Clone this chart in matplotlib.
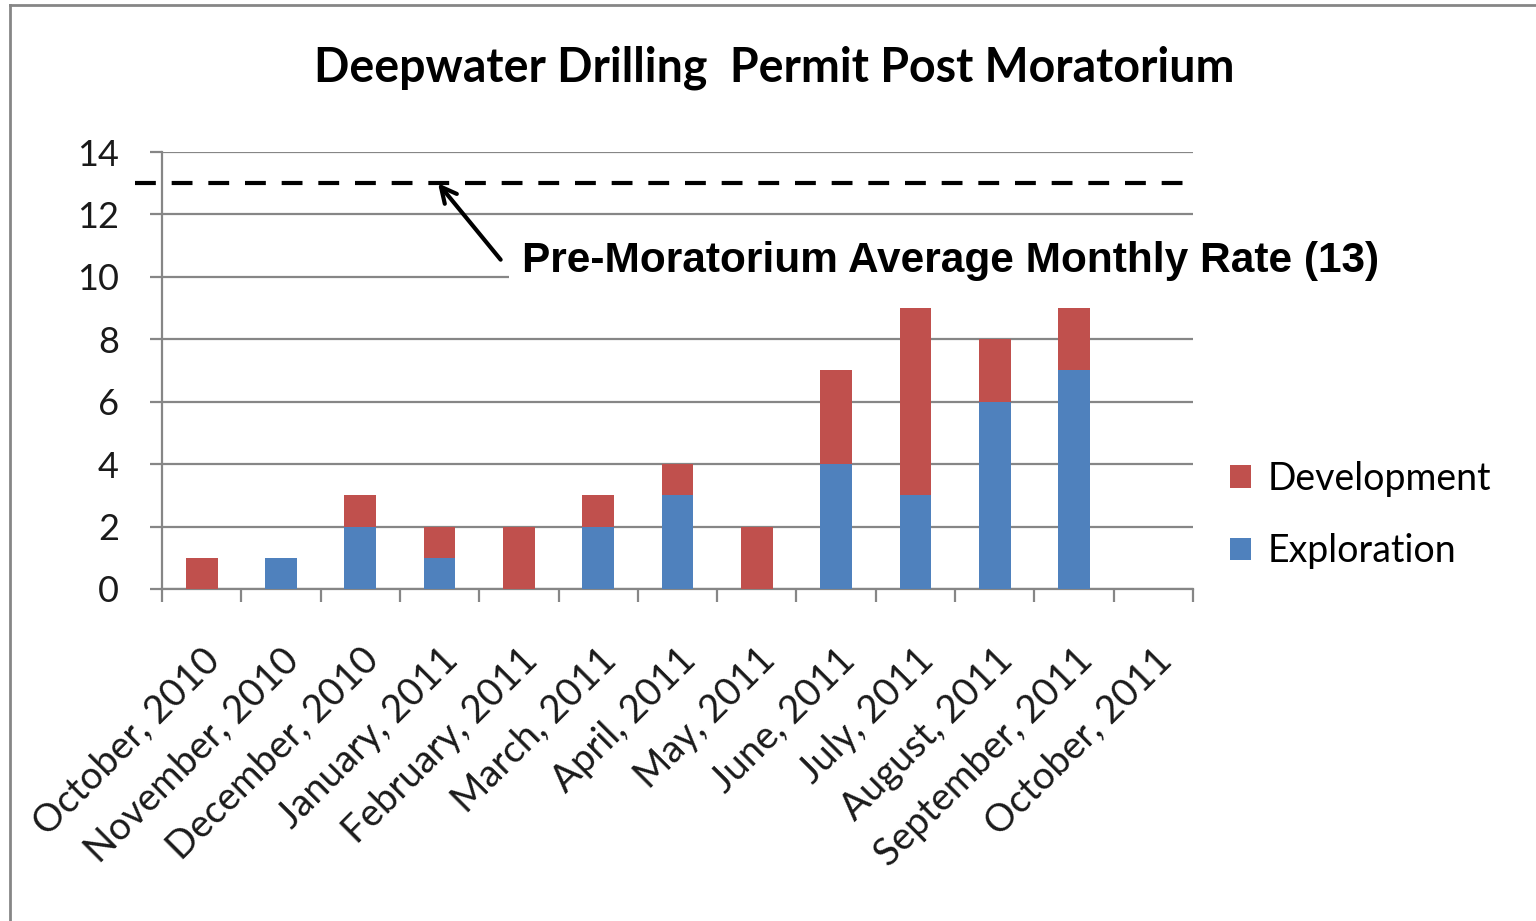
import matplotlib.pyplot as plt
from matplotlib.lines import Line2D
import numpy as np

# data
months = ['October, 2010', 'November, 2010', 'December, 2010', 'January, 2011',
          'February, 2011', 'March, 2011', 'April, 2011', 'May, 2011',
          'June, 2011', 'July, 2011', 'August, 2011', 'September, 2011',
          'October, 2011']
exploration = [0, 1, 2, 1, 0, 2, 3, 0, 4, 3, 6, 7, 0]
development = [1, 0, 1, 1, 2, 1, 1, 2, 3, 6, 2, 2, 0]
pre_moratorium_rate = 13

blue = '#4F81BD'
red = '#C0504D'
grid_col = '#868686'

plt.rcParams['font.family'] = ['Lato', 'DejaVu Sans']

fig = plt.figure(figsize=(15.36, 9.21), dpi=100)
ax = fig.add_axes([162 / 1536, 1 - 589 / 921, (1193 - 162) / 1536, (589 - 152) / 921])

x = np.arange(len(months))
b1 = ax.bar(x, exploration, width=0.4, color=blue, zorder=3)
b2 = ax.bar(x, development, width=0.4, bottom=exploration, color=red, zorder=3)

ax.set_xlim(-0.5, len(months) - 0.5)
ax.set_ylim(0, 14)
ax.set_yticks(range(0, 15, 2))
ax.yaxis.grid(True, color=grid_col, lw=1.6, zorder=0)
ax.set_axisbelow(True)

for s in ['top', 'right']:
    ax.spines[s].set_visible(False)
for s in ['left', 'bottom']:
    ax.spines[s].set_color(grid_col)
    ax.spines[s].set_linewidth(1.6)

ax.set_xticks(x)
ax.set_xticklabels(months, rotation=45, ha='right', rotation_mode='anchor')
ax.set_xticks(np.arange(-0.5, len(months)), minor=True)
ax.tick_params(axis='x', which='major', length=0, pad=38, labelsize=27.5, labelcolor='#1a1a1a')
ax.tick_params(axis='x', which='minor', length=9, width=1.6, color=grid_col)
ax.tick_params(axis='y', length=9, width=1.6, color=grid_col, pad=22, labelsize=26,
               labelcolor='#1a1a1a')

# pre-moratorium average line
ax.axhline(pre_moratorium_rate, xmin=-0.026, xmax=1.005, color='black', lw=3,
           ls=(0, (5, 3.8)), clip_on=False, zorder=4)

ax.text(4.04, 10.5, 'Pre-Moratorium Average Monthly Rate (13)',
        fontsize=30.5, fontweight='bold', family=['Liberation Sans', 'DejaVu Sans'],
        ha='left', va='center', clip_on=False, zorder=5,
        bbox=dict(boxstyle='square,pad=0.3', fc='white', ec='none'))
ax.annotate('', xy=(2.98, pre_moratorium_rate), xytext=(3.77, 10.55),
            annotation_clip=False, zorder=6,
            arrowprops=dict(arrowstyle='->', color='black', lw=3,
                            mutation_scale=28, shrinkA=0, shrinkB=0))

fig.text(0.504, 1 - 68 / 921, 'Deepwater Drilling  Permit Post Moratorium',
         ha='center', va='center', fontsize=33.5, fontweight='bold')

fig.legend([b2, b1], ['Development', 'Exploration'], loc='center left',
           bbox_to_anchor=(1230 / 1536, 1 - 515 / 921), frameon=False,
           fontsize=27, labelspacing=0.98, handlelength=0.55, handleheight=0.55,
           handletextpad=0.45, borderpad=0, borderaxespad=0)

# chart border (top and left visible)
fig.add_artist(Line2D([10 / 1536, 10 / 1536], [0, 1 - 5 / 921], color=grid_col, lw=2))
fig.add_artist(Line2D([10 / 1536, 1], [1 - 5 / 921, 1 - 5 / 921], color=grid_col, lw=2))

fig.savefig('out.png', dpi=100)
